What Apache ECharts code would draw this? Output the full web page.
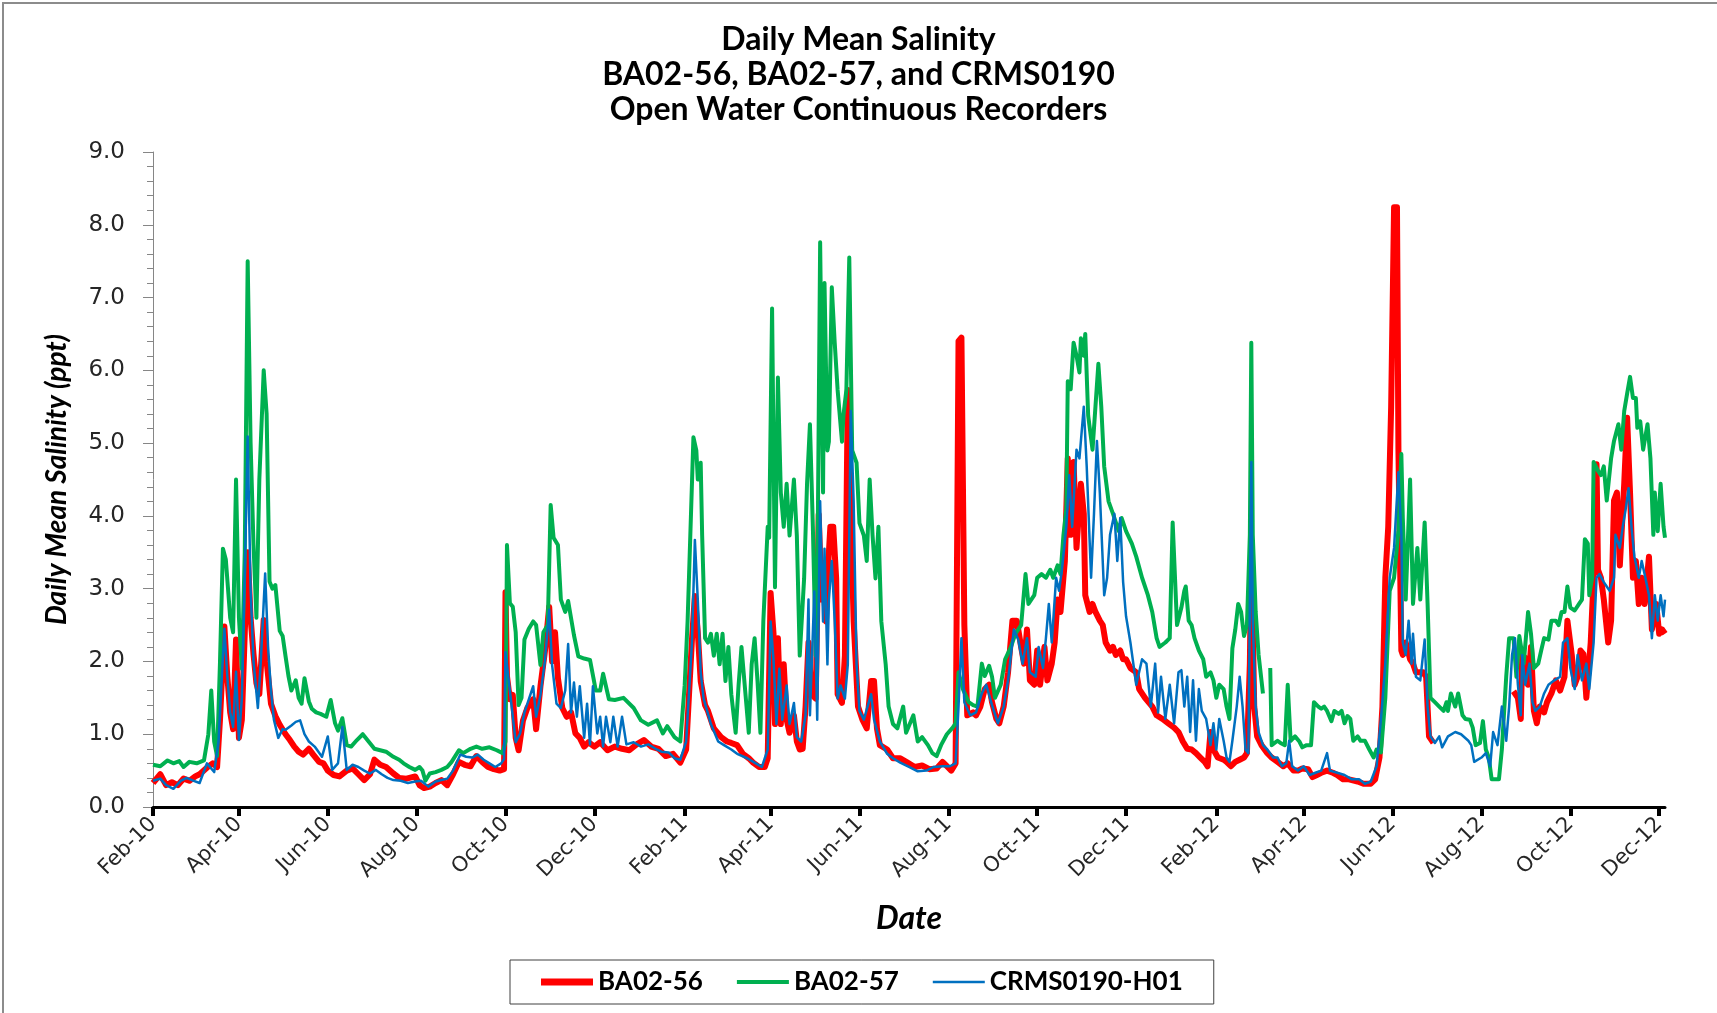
<!DOCTYPE html>
<html>
<head>
<meta charset="utf-8">
<script src="https://cdn.jsdelivr.net/npm/echarts@6/dist/echarts.min.js"></script>
<style>
html,body{margin:0;padding:0;background:#fff;}
#chart{width:1717px;height:1013px;}
</style>
</head>
<body>
<div id="chart"></div>
<script>
const titleLines = ['Daily Mean Salinity', 'BA02-56, BA02-57, and CRMS0190', 'Open Water Continuous Recorders'];
const seriesNames = ['BA02-56', 'BA02-57', 'CRMS0190-H01'];
const yTitle = 'Daily Mean Salinity (ppt)';
const xTitle = 'Date';
const xMin = '2010-02-01';
const xMax = '2012-12-05';
const tickDates = ['2010-02-01','2010-04-01','2010-06-01','2010-08-01','2010-10-01','2010-12-01','2011-02-01','2011-04-01','2011-06-01','2011-08-01','2011-10-01','2011-12-01','2012-02-01','2012-04-01','2012-06-01','2012-08-01','2012-10-01','2012-12-01'];
const tickLabels = ['Feb-10','Apr-10','Jun-10','Aug-10','Oct-10','Dec-10','Feb-11','Apr-11','Jun-11','Aug-11','Oct-11','Dec-11','Feb-12','Apr-12','Jun-12','Aug-12','Oct-12','Dec-12'];

// BA02-56 (red)
const dataBA0256 = [
['2010-02-01',0.33],['2010-02-06',0.45],['2010-02-10',0.3],['2010-02-14',0.34],['2010-02-18',0.3],['2010-02-22',0.39],['2010-02-26',0.36],['2010-03-02',0.42],['2010-03-05',0.45],['2010-03-10',0.54],['2010-03-14',0.6],['2010-03-17',0.55],['2010-03-19',1.2],['2010-03-22',2.48],['2010-03-24',1.8],['2010-03-26',1.3],['2010-03-28',1.07],['2010-03-30',2.3],['2010-04-01',0.95],['2010-04-03',1.2],['2010-04-05',2.4],['2010-04-07',3.5],['2010-04-09',2.6],['2010-04-11',2.1],['2010-04-13',1.7],['2010-04-15',1.55],['2010-04-18',2.57],['2010-04-20',2.0],['2010-04-23',1.42],['2010-04-26',1.25],['2010-04-29',1.13],['2010-05-03',1.0],['2010-05-06',0.92],['2010-05-09',0.83],['2010-05-12',0.76],['2010-05-15',0.72],['2010-05-19',0.8],['2010-05-22',0.72],['2010-05-26',0.62],['2010-05-29',0.6],['2010-06-01',0.5],['2010-06-05',0.44],['2010-06-09',0.42],['2010-06-14',0.5],['2010-06-18',0.53],['2010-06-22',0.45],['2010-06-26',0.37],['2010-06-30',0.45],['2010-07-03',0.65],['2010-07-07',0.58],['2010-07-11',0.55],['2010-07-16',0.46],['2010-07-20',0.4],['2010-07-25',0.39],['2010-07-31',0.42],['2010-08-03',0.3],['2010-08-06',0.26],['2010-08-10',0.28],['2010-08-14',0.33],['2010-08-18',0.37],['2010-08-22',0.3],['2010-08-26',0.45],['2010-08-30',0.62],['2010-09-03',0.58],['2010-09-07',0.56],['2010-09-11',0.7],['2010-09-15',0.62],['2010-09-19',0.55],['2010-09-23',0.52],['2010-09-27',0.5],['2010-09-30',0.52],
['2010-10-01',2.95],['2010-10-02',1.8],['2010-10-04',1.48],['2010-10-06',1.54],['2010-10-08',0.95],['2010-10-10',0.78],['2010-10-13',1.19],['2010-10-16',1.36],['2010-10-20',1.48],['2010-10-22',1.07],['2010-10-25',1.66],['2010-10-28',2.13],['2010-10-31',2.75],['2010-11-02',2.0],['2010-11-04',2.4],['2010-11-06',1.77],['2010-11-09',1.36],['2010-11-12',1.24],['2010-11-15',1.3],['2010-11-18',1.01],['2010-11-21',0.95],['2010-11-24',0.83],['2010-11-27',0.89],['2010-12-01',0.83],['2010-12-05',0.89],['2010-12-10',0.78],['2010-12-15',0.83],['2010-12-20',0.8],['2010-12-25',0.78],['2010-12-30',0.86],
['2011-01-04',0.92],['2011-01-09',0.83],['2011-01-14',0.8],['2011-01-19',0.7],['2011-01-24',0.73],['2011-01-29',0.61],['2011-02-02',0.79],['2011-02-04',1.55],['2011-02-06',2.3],['2011-02-08',2.9],['2011-02-10',2.4],['2011-02-12',1.73],['2011-02-15',1.4],['2011-02-17',1.32],['2011-02-21',1.08],['2011-02-26',0.96],['2011-03-02',0.9],['2011-03-05',0.88],['2011-03-09',0.85],['2011-03-13',0.73],['2011-03-17',0.67],['2011-03-20',0.61],['2011-03-24',0.55],['2011-03-28',0.55],['2011-03-30',0.67],['2011-04-01',2.94],['2011-04-03',2.38],['2011-04-04',1.14],['2011-04-06',2.32],['2011-04-08',1.14],['2011-04-10',1.96],['2011-04-12',1.2],['2011-04-14',1.02],['2011-04-17',1.26],['2011-04-19',0.9],['2011-04-21',0.79],['2011-04-23',0.8],['2011-04-25',1.38],['2011-04-27',2.26],['2011-04-29',1.55],['2011-05-02',1.49],['2011-05-04',4.02],['2011-05-06',2.85],['2011-05-07',3.14],['2011-05-09',2.55],['2011-05-10',3.14],['2011-05-12',3.85],['2011-05-14',3.85],['2011-05-16',3.14],['2011-05-17',1.55],['2011-05-20',1.43],['2011-05-22',2.08],['2011-05-24',5.73],['2011-05-25',4.79],['2011-05-28',2.55],['2011-05-31',1.38],['2011-06-03',1.2],['2011-06-06',1.08],['2011-06-09',1.73],['2011-06-11',1.73],['2011-06-13',1.08],['2011-06-15',0.85],['2011-06-20',0.79],['2011-06-24',0.67],['2011-06-29',0.67],['2011-07-04',0.61],['2011-07-09',0.55],['2011-07-14',0.57],['2011-07-19',0.52],['2011-07-24',0.53],['2011-07-28',0.62],['2011-07-31',0.56],['2011-08-03',0.5],['2011-08-06',0.6],['2011-08-08',6.4],['2011-08-10',6.45],['2011-08-12',2.5],['2011-08-14',1.26],['2011-08-18',1.3],['2011-08-20',1.26],['2011-08-23',1.38],['2011-08-26',1.62],['2011-08-29',1.68],['2011-08-31',1.44],['2011-09-03',1.21],['2011-09-05',1.15],['2011-09-08',1.38],['2011-09-11',1.85],['2011-09-14',2.56],['2011-09-17',2.56],['2011-09-20',2.2],['2011-09-22',1.97],['2011-09-24',2.44],['2011-09-26',1.74],['2011-09-29',1.68],['2011-10-01',2.15],['2011-10-03',1.68],['2011-10-06',2.2],['2011-10-08',1.74],['2011-10-11',1.97],['2011-10-13',2.26],['2011-10-15',2.85],['2011-10-17',2.68],['2011-10-20',3.38],['2011-10-22',4.79],['2011-10-24',3.74],['2011-10-26',4.74],['2011-10-28',3.56],['2011-10-30',4.15],['2011-10-31',4.44],['2011-11-02',4.03],['2011-11-03',2.91],['2011-11-06',2.68],['2011-11-08',2.79],['2011-11-10',2.68],['2011-11-13',2.56],['2011-11-15',2.5],['2011-11-17',2.26],['2011-11-20',2.15],['2011-11-22',2.2],['2011-11-24',2.09],['2011-11-27',2.15],['2011-11-29',2.03],['2011-12-01',2.03],['2011-12-04',1.91],['2011-12-08',1.85],['2011-12-10',1.62],['2011-12-14',1.5],['2011-12-19',1.38],['2011-12-22',1.26],['2011-12-26',1.21],['2011-12-30',1.15],
['2012-01-03',1.09],['2012-01-06',1.03],['2012-01-09',0.9],['2012-01-12',0.8],['2012-01-15',0.79],['2012-01-18',0.74],['2012-01-21',0.68],['2012-01-24',0.62],['2012-01-26',0.56],['2012-01-28',1.03],['2012-01-30',0.79],['2012-02-02',0.68],['2012-02-06',0.65],['2012-02-08',0.62],['2012-02-11',0.56],['2012-02-14',0.62],['2012-02-17',0.65],['2012-02-20',0.68],['2012-02-22',0.74],['2012-02-24',1.97],['2012-02-25',3.6],['2012-02-27',1.38],['2012-02-29',0.97],['2012-03-03',0.85],['2012-03-07',0.74],['2012-03-10',0.68],['2012-03-14',0.62],['2012-03-18',0.56],['2012-03-21',0.6],['2012-03-25',0.5],['2012-03-28',0.5],['2012-03-31',0.53],['2012-04-04',0.52],['2012-04-07',0.41],['2012-04-10',0.44],['2012-04-13',0.47],['2012-04-17',0.5],['2012-04-21',0.47],['2012-04-24',0.44],['2012-04-28',0.38],['2012-05-02',0.38],['2012-05-08',0.35],['2012-05-12',0.32],['2012-05-17',0.32],['2012-05-20',0.38],['2012-05-23',0.68],['2012-05-25',1.38],['2012-05-27',3.15],['2012-05-29',3.85],['2012-05-31',5.5],['2012-06-02',8.24],['2012-06-04',8.24],['2012-06-05',4.91],['2012-06-07',2.15],['2012-06-08',2.09],['2012-06-10',2.26],['2012-06-13',2.03],['2012-06-15',1.97],['2012-06-17',1.85],['2012-06-19',1.85],['2012-06-22',1.85],['2012-06-24',1.79],['2012-06-26',0.97],['2012-06-29',0.88],['2012-07-15',null],
['2012-08-23',1.59],['2012-08-26',1.5],['2012-08-28',1.21],['2012-08-29',2.09],['2012-08-31',2.05],['2012-09-02',1.68],['2012-09-04',2.2],['2012-09-06',1.32],['2012-09-08',1.15],['2012-09-10',1.38],['2012-09-13',1.3],['2012-09-15',1.44],['2012-09-18',1.56],['2012-09-21',1.74],['2012-09-24',1.6],['2012-09-27',1.79],['2012-09-29',2.56],['2012-10-02',2.09],['2012-10-04',1.68],['2012-10-06',1.79],['2012-10-08',2.15],['2012-10-10',2.1],['2012-10-12',1.5],['2012-10-15',2.26],['2012-10-17',3.15],['2012-10-19',4.71],['2012-10-20',3.26],['2012-10-22',3.15],['2012-10-24',2.85],['2012-10-27',2.26],['2012-10-29',2.56],['2012-10-31',4.21],['2012-11-02',4.32],['2012-11-04',3.32],['2012-11-07',4.44],['2012-11-09',5.35],['2012-11-11',4.32],['2012-11-13',3.15],['2012-11-15',3.38],['2012-11-17',2.79],['2012-11-19',3.15],['2012-11-21',2.79],['2012-11-24',3.44],['2012-11-26',2.44],['2012-11-29',2.79],['2012-12-01',2.38],['2012-12-03',2.44],['2012-12-05',2.38]
];

// BA02-57 (green)
const dataBA0257 = [
['2010-02-01',0.58],['2010-02-06',0.56],['2010-02-11',0.64],['2010-02-15',0.6],['2010-02-19',0.63],['2010-02-22',0.55],['2010-02-26',0.62],['2010-03-03',0.6],['2010-03-08',0.64],['2010-03-11',1.0],['2010-03-13',1.6],['2010-03-15',0.9],['2010-03-17',0.7],['2010-03-19',2.0],['2010-03-21',3.55],['2010-03-23',3.4],['2010-03-26',2.6],['2010-03-28',2.4],['2010-03-30',4.5],['2010-04-01',2.6],['2010-04-03',1.9],['2010-04-05',3.5],['2010-04-07',7.5],['2010-04-09',5.0],['2010-04-11',3.6],['2010-04-13',2.6],['2010-04-15',4.5],['2010-04-17',5.5],['2010-04-18',6.0],['2010-04-20',5.4],['2010-04-22',3.1],['2010-04-24',3.0],['2010-04-26',3.05],['2010-04-29',2.42],['2010-05-01',2.35],['2010-05-03',2.07],['2010-05-05',1.8],['2010-05-07',1.6],['2010-05-10',1.74],['2010-05-12',1.5],['2010-05-14',1.42],['2010-05-16',1.77],['2010-05-19',1.45],['2010-05-21',1.35],['2010-05-24',1.3],['2010-05-27',1.28],['2010-05-31',1.24],['2010-06-03',1.47],['2010-06-06',1.15],['2010-06-08',1.05],['2010-06-11',1.22],['2010-06-14',0.85],['2010-06-17',0.83],['2010-06-21',0.92],['2010-06-25',1.0],['2010-06-29',0.9],['2010-07-03',0.8],['2010-07-07',0.78],['2010-07-11',0.76],['2010-07-16',0.69],['2010-07-20',0.65],['2010-07-23',0.6],['2010-07-27',0.55],['2010-07-31',0.51],['2010-08-03',0.55],['2010-08-05',0.5],['2010-08-07',0.36],['2010-08-10',0.46],['2010-08-14',0.48],['2010-08-18',0.51],['2010-08-22',0.55],['2010-08-25',0.62],['2010-08-30',0.78],['2010-09-02',0.74],['2010-09-07',0.8],['2010-09-11',0.83],['2010-09-15',0.8],['2010-09-20',0.82],['2010-09-25',0.78],['2010-09-29',0.74],
['2010-10-01',0.9],['2010-10-02',3.6],['2010-10-04',2.8],['2010-10-06',2.75],['2010-10-08',2.4],['2010-10-10',1.4],['2010-10-12',1.5],['2010-10-14',2.3],['2010-10-17',2.45],['2010-10-20',2.55],['2010-10-22',2.5],['2010-10-25',1.95],['2010-10-27',2.4],['2010-10-30',2.5],['2010-11-01',4.15],['2010-11-03',3.7],['2010-11-06',3.6],['2010-11-08',2.85],['2010-11-11',2.68],['2010-11-13',2.83],['2010-11-17',2.36],['2010-11-20',2.07],['2010-11-24',2.04],['2010-11-28',2.02],['2010-12-02',1.6],['2010-12-05',1.6],['2010-12-07',1.83],['2010-12-11',1.48],['2010-12-15',1.47],['2010-12-21',1.5],['2010-12-28',1.36],
['2011-01-02',1.19],['2011-01-07',1.13],['2011-01-13',1.19],['2011-01-17',1.01],['2011-01-20',1.11],['2011-01-25',0.96],['2011-01-29',0.9],['2011-02-01',1.67],['2011-02-03',2.55],['2011-02-07',5.08],['2011-02-09',4.9],['2011-02-10',4.5],['2011-02-12',4.73],['2011-02-13',3.73],['2011-02-15',2.32],['2011-02-17',2.26],['2011-02-19',2.38],['2011-02-21',2.08],['2011-02-23',2.38],['2011-02-25',1.96],['2011-02-27',2.38],['2011-03-01',1.73],['2011-03-03',2.2],['2011-03-05',1.55],['2011-03-08',1.02],['2011-03-10',1.67],['2011-03-12',2.2],['2011-03-15',1.49],['2011-03-17',1.02],['2011-03-19',1.96],['2011-03-21',2.32],['2011-03-23',1.73],['2011-03-25',1.02],['2011-03-27',2.55],['2011-03-30',3.85],['2011-03-31',3.7],['2011-04-02',6.85],['2011-04-04',3.02],['2011-04-06',5.9],['2011-04-08',4.32],['2011-04-10',3.85],['2011-04-12',4.44],['2011-04-14',3.73],['2011-04-17',4.5],['2011-04-19',3.73],['2011-04-21',2.08],['2011-04-24',3.14],['2011-04-26',4.44],['2011-04-28',5.26],['2011-04-30',3.85],['2011-05-02',2.08],['2011-05-03',2.85],['2011-05-05',7.76],['2011-05-07',4.32],['2011-05-08',7.2],['2011-05-10',4.9],['2011-05-11',5.02],['2011-05-13',7.14],['2011-05-15',6.38],['2011-05-17',5.73],['2011-05-20',5.02],['2011-05-21',5.38],['2011-05-23',5.73],['2011-05-25',7.55],['2011-05-27',4.9],['2011-05-30',4.73],['2011-06-01',3.9],['2011-06-04',3.73],['2011-06-06',3.38],['2011-06-08',4.5],['2011-06-10',3.73],['2011-06-12',3.14],['2011-06-14',3.85],['2011-06-16',2.55],['2011-06-19',1.96],['2011-06-21',1.38],['2011-06-24',1.14],['2011-06-27',1.08],['2011-07-01',1.38],['2011-07-03',1.02],['2011-07-08',1.26],['2011-07-11',0.9],['2011-07-14',0.96],['2011-07-18',0.85],['2011-07-21',0.74],['2011-07-24',0.7],['2011-07-27',0.85],['2011-07-31',1.0],['2011-08-04',1.09],['2011-08-06',1.15],['2011-08-08',1.85],['2011-08-11',1.62],['2011-08-15',1.44],['2011-08-18',1.4],['2011-08-21',1.38],['2011-08-24',1.97],['2011-08-26',1.8],['2011-08-29',1.94],['2011-08-31',1.79],['2011-09-02',1.5],['2011-09-06',1.68],['2011-09-09',2.03],['2011-09-13',2.2],['2011-09-16',2.38],['2011-09-20',2.5],['2011-09-23',3.2],['2011-09-25',2.79],['2011-09-29',2.91],['2011-10-01',3.15],['2011-10-04',3.2],['2011-10-07',3.15],['2011-10-10',3.26],['2011-10-12',3.15],['2011-10-15',3.32],['2011-10-17',3.2],['2011-10-19',3.73],['2011-10-21',4.09],['2011-10-22',5.85],['2011-10-24',5.74],['2011-10-26',6.38],['2011-10-28',6.2],['2011-10-30',5.97],['2011-10-31',6.44],['2011-11-02',6.2],['2011-11-03',6.5],['2011-11-05',5.38],['2011-11-08',4.91],['2011-11-10',5.5],['2011-11-12',6.09],['2011-11-14',5.5],['2011-11-16',4.68],['2011-11-19',4.2],['2011-11-22',4.03],['2011-11-26',3.79],['2011-11-28',3.97],['2011-12-01',3.79],['2011-12-05',3.62],['2011-12-08',3.44],['2011-12-12',3.15],['2011-12-16',2.91],['2011-12-19',2.68],['2011-12-22',2.32],['2011-12-24',2.2],['2011-12-28',2.26],['2011-12-31',2.32],
['2012-01-02',3.91],['2012-01-05',2.5],['2012-01-08',2.74],['2012-01-10',2.97],['2012-01-11',3.03],['2012-01-13',2.56],['2012-01-15',2.5],['2012-01-17',2.32],['2012-01-20',2.15],['2012-01-23',2.03],['2012-01-25',1.79],['2012-01-28',1.85],['2012-01-30',1.74],['2012-02-01',1.5],['2012-02-03',1.68],['2012-02-06',1.62],['2012-02-08',1.38],['2012-02-10',1.21],['2012-02-12',2.18],['2012-02-14',2.44],['2012-02-16',2.79],['2012-02-18',2.68],['2012-02-20',2.35],['2012-02-22',2.5],['2012-02-24',3.74],['2012-02-25',6.38],['2012-02-26',3.74],['2012-02-28',2.68],['2012-03-01',2.09],['2012-03-04',1.56],['2012-03-06',null],['2012-03-09',1.91],['2012-03-10',0.85],['2012-03-14',0.91],['2012-03-16',0.88],['2012-03-19',0.85],['2012-03-21',1.68],['2012-03-23',0.91],['2012-03-26',0.97],['2012-03-29',0.9],['2012-03-31',0.82],['2012-04-03',0.85],['2012-04-06',0.85],['2012-04-08',1.44],['2012-04-11',1.38],['2012-04-13',1.35],['2012-04-15',1.38],['2012-04-17',1.32],['2012-04-20',1.18],['2012-04-22',1.32],['2012-04-25',1.28],['2012-04-27',1.32],['2012-04-29',1.15],['2012-05-01',1.25],['2012-05-03',1.21],['2012-05-05',0.91],['2012-05-08',0.97],['2012-05-10',0.91],['2012-05-13',0.91],['2012-05-16',0.79],['2012-05-19',0.68],['2012-05-21',0.79],['2012-05-24',0.75],['2012-05-27',1.5],['2012-05-30',2.97],['2012-06-02',3.15],['2012-06-05',3.8],['2012-06-07',4.85],['2012-06-08',3.97],['2012-06-10',2.85],['2012-06-13',4.5],['2012-06-15',2.79],['2012-06-18',3.56],['2012-06-20',2.85],['2012-06-23',3.91],['2012-06-25',2.8],['2012-06-27',1.5],['2012-06-30',1.44],['2012-07-03',1.38],['2012-07-06',1.32],['2012-07-08',1.44],['2012-07-09',1.32],['2012-07-11',1.56],['2012-07-14',1.38],['2012-07-16',1.56],['2012-07-19',1.26],['2012-07-21',1.21],['2012-07-24',1.2],['2012-07-26',1.09],['2012-07-28',0.85],['2012-07-31',0.88],['2012-08-02',1.18],['2012-08-04',0.79],['2012-08-06',0.68],['2012-08-08',0.38],['2012-08-13',0.38],['2012-08-15',0.79],['2012-08-18',1.79],['2012-08-20',2.32],['2012-08-23',2.32],['2012-08-25',1.79],['2012-08-27',2.35],['2012-08-30',1.97],['2012-09-02',2.68],['2012-09-04',2.38],['2012-09-06',1.91],['2012-09-09',1.97],['2012-09-11',2.15],['2012-09-13',2.32],['2012-09-16',2.3],['2012-09-18',2.56],['2012-09-21',2.56],['2012-09-23',2.5],['2012-09-25',2.68],['2012-09-27',2.68],['2012-09-29',3.03],['2012-10-01',2.74],['2012-10-04',2.7],['2012-10-07',2.79],['2012-10-09',2.85],['2012-10-11',3.68],['2012-10-13',3.62],['2012-10-14',2.91],['2012-10-16',3.15],['2012-10-17',4.74],['2012-10-20',4.62],['2012-10-22',4.56],['2012-10-24',4.68],['2012-10-26',4.21],['2012-10-29',4.79],['2012-10-31',5.03],['2012-11-03',5.26],['2012-11-05',4.91],['2012-11-07',5.44],['2012-11-09',5.68],['2012-11-11',5.91],['2012-11-13',5.62],['2012-11-15',5.62],['2012-11-16',5.21],['2012-11-18',5.3],['2012-11-20',4.91],['2012-11-23',5.26],['2012-11-25',4.79],['2012-11-27',3.74],['2012-11-28',4.32],['2012-11-30',3.79],['2012-12-02',4.44],['2012-12-04',3.85],['2012-12-05',3.7]
];

// CRMS0190-H01 (blue)
const dataCRMS0190 = [
['2010-02-01',0.36],['2010-02-06',0.39],['2010-02-10',0.3],['2010-02-15',0.25],['2010-02-20',0.36],['2010-02-24',0.4],['2010-03-01',0.36],['2010-03-05',0.33],['2010-03-10',0.6],['2010-03-15',0.48],['2010-03-18',0.9],['2010-03-22',2.45],['2010-03-24',1.8],['2010-03-26',1.3],['2010-03-28',1.1],['2010-03-30',1.86],['2010-04-01',0.92],['2010-04-03',1.5],['2010-04-05',3.2],['2010-04-07',5.09],['2010-04-09',3.0],['2010-04-11',2.0],['2010-04-14',1.36],['2010-04-16',2.0],['2010-04-19',3.21],['2010-04-21',2.2],['2010-04-23',1.6],['2010-04-25',1.2],['2010-04-28',0.95],['2010-05-01',1.07],['2010-05-03',1.06],['2010-05-07',1.12],['2010-05-10',1.17],['2010-05-13',1.19],['2010-05-16',1.0],['2010-05-19',0.9],['2010-05-23',0.83],['2010-05-28',0.69],['2010-06-01',0.97],['2010-06-04',0.51],['2010-06-08',0.6],['2010-06-11',1.1],['2010-06-14',0.51],['2010-06-18',0.58],['2010-06-22',0.55],['2010-06-26',0.5],['2010-06-30',0.46],['2010-07-04',0.51],['2010-07-08',0.45],['2010-07-12',0.4],['2010-07-16',0.37],['2010-07-21',0.36],['2010-07-26',0.33],['2010-07-31',0.35],['2010-08-04',0.36],['2010-08-09',0.28],['2010-08-14',0.35],['2010-08-18',0.37],['2010-08-22',0.39],['2010-08-26',0.5],['2010-08-31',0.72],['2010-09-04',0.69],['2010-09-08',0.68],['2010-09-12',0.72],['2010-09-16',0.65],['2010-09-20',0.6],['2010-09-24',0.55],['2010-09-28',0.6],['2010-09-30',0.66],
['2010-10-01',2.13],['2010-10-03',1.77],['2010-10-05',1.42],['2010-10-08',0.89],['2010-10-11',1.01],['2010-10-14',1.3],['2010-10-17',1.48],['2010-10-20',1.66],['2010-10-22',1.24],['2010-10-25',1.54],['2010-10-28',2.0],['2010-10-31',2.71],['2010-11-02',1.95],['2010-11-05',1.42],['2010-11-08',1.36],['2010-11-11',1.6],['2010-11-13',2.24],['2010-11-15',1.3],['2010-11-17',1.71],['2010-11-19',1.24],['2010-11-21',1.66],['2010-11-24',0.95],['2010-11-26',1.42],['2010-11-28',0.86],['2010-11-30',1.66],['2010-12-03',1.01],['2010-12-05',1.24],['2010-12-07',0.83],['2010-12-09',1.24],['2010-12-12',0.89],['2010-12-14',1.24],['2010-12-17',0.83],['2010-12-20',1.24],['2010-12-23',0.86],['2010-12-28',0.89],
['2011-01-02',0.83],['2011-01-07',0.86],['2011-01-12',0.8],['2011-01-16',0.76],['2011-01-21',0.75],['2011-01-25',0.67],['2011-01-29',0.65],['2011-02-02',0.9],['2011-02-06',2.26],['2011-02-08',3.67],['2011-02-10',2.85],['2011-02-12',1.85],['2011-02-14',1.49],['2011-02-19',1.14],['2011-02-24',0.9],['2011-02-28',0.85],['2011-03-05',0.79],['2011-03-09',0.73],['2011-03-16',0.67],['2011-03-21',0.61],['2011-03-26',0.55],['2011-03-30',0.79],['2011-04-01',2.55],['2011-04-03',2.02],['2011-04-05',1.14],['2011-04-07',1.9],['2011-04-09',1.2],['2011-04-12',1.67],['2011-04-14',1.14],['2011-04-17',1.43],['2011-04-19',0.96],['2011-04-22',0.9],['2011-04-25',1.26],['2011-04-27',2.85],['2011-04-28',1.26],['2011-05-01',2.96],['2011-05-03',1.2],['2011-05-05',4.2],['2011-05-07',2.55],['2011-05-08',3.55],['2011-05-10',1.96],['2011-05-11',2.85],['2011-05-13',3.38],['2011-05-15',2.55],['2011-05-17',1.49],['2011-05-19',1.67],['2011-05-22',1.49],['2011-05-24',1.96],['2011-05-26',5.44],['2011-05-28',4.2],['2011-05-30',1.96],['2011-06-01',1.32],['2011-06-04',1.2],['2011-06-09',1.55],['2011-06-11',1.2],['2011-06-15',0.9],['2011-06-20',0.73],['2011-06-24',0.67],['2011-06-29',0.61],['2011-07-05',0.55],['2011-07-11',0.49],['2011-07-17',0.5],['2011-07-22',0.55],['2011-07-28',0.56],['2011-08-02',0.56],['2011-08-06',0.6],['2011-08-08',1.38],['2011-08-10',2.32],['2011-08-12',1.44],['2011-08-16',1.26],['2011-08-20',1.3],['2011-08-24',1.56],['2011-08-27',1.68],['2011-08-31',1.4],['2011-09-04',1.15],['2011-09-08',1.38],['2011-09-11',1.74],['2011-09-15',2.44],['2011-09-18',2.3],['2011-09-21',1.97],['2011-09-24',2.32],['2011-09-26',1.85],['2011-09-30',1.79],['2011-10-02',2.2],['2011-10-05',1.91],['2011-10-07',2.32],['2011-10-09',2.79],['2011-10-11',2.26],['2011-10-14',3.15],['2011-10-16',2.97],['2011-10-18',3.26],['2011-10-21',3.85],['2011-10-23',4.56],['2011-10-25',3.85],['2011-10-28',4.91],['2011-10-30',4.79],['2011-11-02',5.5],['2011-11-04',4.68],['2011-11-07',3.15],['2011-11-09',4.03],['2011-11-11',5.03],['2011-11-13',4.32],['2011-11-16',2.91],['2011-11-18',3.15],['2011-11-20',3.74],['2011-11-23',4.03],['2011-11-25',3.38],['2011-11-27',3.97],['2011-11-29',3.09],['2011-12-01',2.62],['2011-12-04',2.26],['2011-12-06',1.97],['2011-12-08',1.68],['2011-12-12',2.03],['2011-12-15',1.97],['2011-12-18',1.38],['2011-12-21',1.97],['2011-12-23',1.3],['2011-12-25',1.79],['2011-12-28',1.21],['2011-12-31',1.68],
['2012-01-03',1.15],['2012-01-06',1.85],['2012-01-08',1.88],['2012-01-10',1.38],['2012-01-12',1.79],['2012-01-14',1.03],['2012-01-16',1.74],['2012-01-18',0.91],['2012-01-20',1.62],['2012-01-22',1.32],['2012-01-25',1.21],['2012-01-28',0.85],['2012-01-30',1.15],['2012-02-01',0.79],['2012-02-03',1.21],['2012-02-06',0.91],['2012-02-08',0.68],['2012-02-10',0.62],['2012-02-12',0.91],['2012-02-15',1.38],['2012-02-17',1.79],['2012-02-19',1.38],['2012-02-21',0.79],['2012-02-23',0.74],['2012-02-25',4.74],['2012-02-26',2.56],['2012-02-28',1.38],['2012-03-01',1.03],['2012-03-04',0.85],['2012-03-07',0.79],['2012-03-11',0.68],['2012-03-14',0.68],['2012-03-17',0.56],['2012-03-20',0.6],['2012-03-22',0.91],['2012-03-24',0.56],['2012-03-28',0.5],['2012-04-01',0.56],['2012-04-05',0.44],['2012-04-09',0.47],['2012-04-13',0.5],['2012-04-17',0.74],['2012-04-19',0.5],['2012-04-24',0.47],['2012-04-29',0.44],['2012-05-04',0.38],['2012-05-09',0.38],['2012-05-13',0.32],['2012-05-17',0.35],['2012-05-21',0.56],['2012-05-24',1.21],['2012-05-27',1.97],['2012-05-30',3.15],['2012-06-02',3.56],['2012-06-05',4.6],['2012-06-07',3.74],['2012-06-08',2.26],['2012-06-10',2.09],['2012-06-12',2.56],['2012-06-14',1.97],['2012-06-15',2.38],['2012-06-17',1.79],['2012-06-20',1.74],['2012-06-23',2.3],['2012-06-25',1.38],['2012-06-27',0.97],['2012-06-30',0.88],['2012-07-03',0.97],['2012-07-05',0.82],['2012-07-09',0.97],['2012-07-14',1.03],['2012-07-18',1.0],['2012-07-23',0.91],['2012-07-25',0.85],['2012-07-27',0.62],['2012-08-01',0.68],['2012-08-04',0.74],['2012-08-07',0.56],['2012-08-09',1.03],['2012-08-12',0.85],['2012-08-13',0.85],['2012-08-15',1.38],['2012-08-18',0.91],['2012-08-20',1.38],['2012-08-22',2.09],['2012-08-24',2.32],['2012-08-26',1.68],['2012-08-28',1.26],['2012-08-29',2.09],['2012-08-31',1.68],['2012-09-03',1.97],['2012-09-05',1.44],['2012-09-07',1.32],['2012-09-10',1.38],['2012-09-13',1.56],['2012-09-16',1.68],['2012-09-20',1.74],['2012-09-24',1.79],['2012-09-26',2.26],['2012-09-29',2.32],['2012-10-01',1.91],['2012-10-04',1.62],['2012-10-06',2.09],['2012-10-09',1.74],['2012-10-12',1.97],['2012-10-14',1.62],['2012-10-17',2.26],['2012-10-19',3.15],['2012-10-21',3.2],['2012-10-24',3.09],['2012-10-26',3.03],['2012-10-28',2.97],['2012-10-31',3.15],['2012-11-01',3.74],['2012-11-04',3.56],['2012-11-06',3.85],['2012-11-08',4.09],['2012-11-10',4.38],['2012-11-12',3.85],['2012-11-14',3.44],['2012-11-17',3.15],['2012-11-19',3.38],['2012-11-21',3.2],['2012-11-24',2.91],['2012-11-26',2.32],['2012-11-28',2.91],['2012-11-30',2.56],['2012-12-02',2.91],['2012-12-04',2.62],['2012-12-05',2.85]
];

const chart = echarts.init(document.getElementById('chart'), null, {renderer: 'canvas'});
const P = s => { const p = s.split('-').map(Number); return Date.UTC(p[0], p[1] - 1, p[2]); };
const tickTs = tickDates.map(P);
const toPts = arr => arr.map(d => [P(d[0]), d[1] === null ? '-' : d[1]]);
const seriesColors = ['#FF0000', '#00B050', '#0070C0'];
const seriesWidths = [6, 4, 2.5];
const legendIcons = ['path://M0,0H52V7H0Z', 'path://M0,0H52V4H0Z', 'path://M0,0H52V2.5H0Z'];
const seriesData = [dataBA0256, dataBA0257, dataCRMS0190];

const option = {
  animation: false,
  backgroundColor: '#ffffff',
  graphic: [{
    type: 'rect', silent: true,
    shape: {x: 3, y: 3, width: 1760, height: 1060},
    style: {fill: 'none', stroke: '#8c8c8c', lineWidth: 2}
  }],
  title: {
    text: titleLines.join('\n'),
    left: 'center', top: 17,
    textStyle: {fontFamily: 'Lato', fontWeight: 'bold', fontSize: 32, lineHeight: 35, color: '#000'}
  },
  legend: {
    data: seriesNames.map((n, i) => ({name: n, icon: legendIcons[i]})),
    left: 510, top: 960,
    padding: [9, 31],
    itemWidth: 52, itemHeight: 16, itemGap: 34,
    symbolKeepAspect: true,
    borderColor: '#404040', borderWidth: 1,
    textStyle: {fontFamily: 'Lato', fontWeight: 'bold', fontSize: 26, color: '#000'}
  },
  grid: {left: 153, right: 52, top: 152, bottom: 206, containLabel: false},
  xAxis: {
    type: 'value',
    min: P(xMin), max: P(xMax),
    name: xTitle, nameLocation: 'middle', nameGap: 96,
    nameTextStyle: {fontFamily: 'Lato', fontWeight: 'bold', fontStyle: 'italic', fontSize: 32, color: '#000'},
    axisLine: {show: true, onZero: false, lineStyle: {color: '#000', width: 3}},
    axisTick: {show: true, customValues: tickTs, length: 9, lineStyle: {color: '#000', width: 4}},
    axisLabel: {
      customValues: tickTs, rotate: 45, margin: 14,
      fontFamily: 'DejaVu Sans', fontSize: 21, color: '#262626',
      formatter: v => { const i = tickTs.indexOf(v); return i >= 0 ? tickLabels[i] : ''; }
    },
    splitLine: {show: false}
  },
  yAxis: {
    type: 'value', min: 0, max: 9, interval: 1,
    name: yTitle, nameLocation: 'middle', nameGap: 82, nameRotate: 90,
    nameTextStyle: {fontFamily: 'Lato', fontWeight: 'bold', fontStyle: 'italic', fontSize: 28, color: '#000'},
    axisLine: {show: true, lineStyle: {color: '#868686', width: 1}},
    axisTick: {show: true, length: 10, lineStyle: {color: '#868686'}},
    minorTick: {show: true, splitNumber: 5, length: 6, lineStyle: {color: '#868686'}},
    splitLine: {show: false},
    axisLabel: {margin: 28, fontFamily: 'DejaVu Sans', fontSize: 23, color: '#262626', formatter: v => v.toFixed(1)}
  },
  series: seriesNames.map((n, i) => ({
    name: n, type: 'line', data: toPts(seriesData[i]),
    showSymbol: false, symbol: 'none', connectNulls: false, z: 2 + i,
    lineStyle: {color: seriesColors[i], width: seriesWidths[i], join: 'round'},
    itemStyle: {color: seriesColors[i]}
  }))
};
chart.setOption(option);
</script>
</body>
</html>
